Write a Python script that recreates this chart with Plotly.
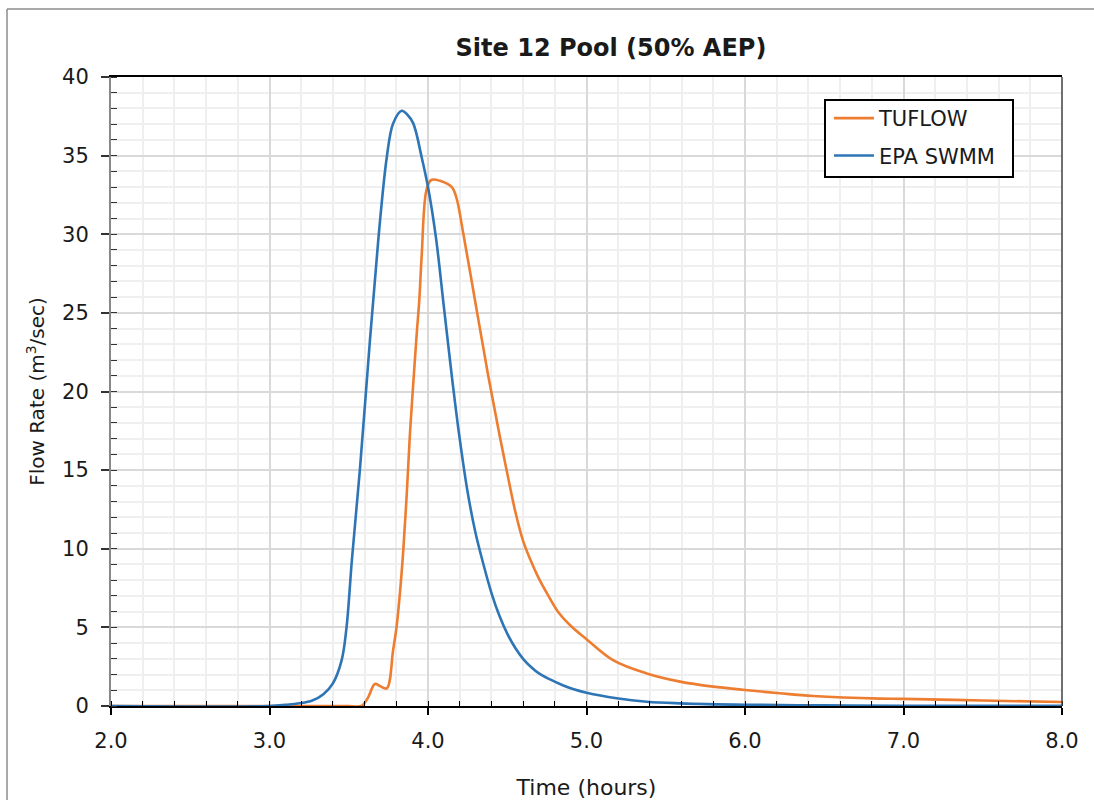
import plotly.graph_objects as go

# ---- data ----
swmm_time = [2.0, 3.0, 3.1, 3.19, 3.27, 3.34, 3.40, 3.455, 3.486, 3.52, 3.57, 3.634,
             3.686, 3.74, 3.78, 3.834, 3.87, 3.907, 3.96, 4.0, 4.05, 4.10, 4.15,
             4.20, 4.25, 4.30, 4.35, 4.40, 4.45, 4.50, 4.55, 4.60, 4.65, 4.70,
             4.77, 4.85, 4.92, 5.0, 5.19, 5.38, 5.59, 6.0, 6.5, 7.0, 8.0]
swmm_flow = [0.0, 0.0, 0.07, 0.17, 0.35, 0.75, 1.44, 2.9, 5.0, 9.3, 15.0, 23.3,
             29.6, 34.9, 37.05, 37.85, 37.6, 37.05, 34.9, 33.0, 29.8, 25.4, 21.0,
             17.0, 13.6, 11.0, 9.0, 7.2, 5.75, 4.6, 3.7, 3.0, 2.48, 2.07,
             1.69, 1.32, 1.06, 0.84, 0.49, 0.27, 0.17, 0.08, 0.04, 0.02, 0.01]

tuflow_time = [2.0, 3.5, 3.58, 3.62, 3.665, 3.70, 3.74, 3.78, 3.80, 3.823, 3.844,
               3.866, 3.886, 3.907, 3.929, 3.945, 3.96, 3.99, 4.02, 4.075, 4.15,
               4.18, 4.22, 4.30, 4.38, 4.45, 4.50, 4.55, 4.60, 4.65, 4.70, 4.76,
               4.82, 4.90, 5.0, 5.17, 5.38, 5.59, 5.80, 6.0, 6.22, 6.43, 6.85, 7.0,
               7.5, 8.0]
tuflow_flow = [0.0, 0.0, 0.0, 0.5, 1.4, 1.25, 1.12, 3.56, 4.9, 7.2, 9.9,
               13.5, 17.3, 20.5, 23.7, 25.8, 28.6, 32.8, 33.45, 33.4, 33.0,
               32.3, 30.2, 25.6, 21.0, 17.3, 14.8, 12.4, 10.5, 9.2, 8.1, 7.0,
               6.0, 5.1, 4.25, 2.9, 2.07, 1.55, 1.23, 1.02, 0.81, 0.64, 0.47, 0.45,
               0.35, 0.25]

x_ticks = [2.0, 3.0, 4.0, 5.0, 6.0, 7.0, 8.0]
x_tick_labels = ["2.0", "3.0", "4.0", "5.0", "6.0", "7.0", "8.0"]
y_ticks = [0, 5, 10, 15, 20, 25, 30, 35, 40]

title_text = "Site 12 Pool (50% AEP)"
x_title = "Time (hours)"
y_title = "Flow Rate (m<sup>3</sup>/sec)"

FONT = "DejaVu Sans"
ORANGE = "#ED7D31"
BLUE = "#2E75B6"

fig = go.Figure()
fig.add_trace(go.Scatter(x=tuflow_time, y=tuflow_flow, mode="lines", name="TUFLOW",
                         legendgroup="a",
                         line=dict(color=ORANGE, width=2.6, shape="spline", smoothing=1.0)))
fig.add_trace(go.Scatter(x=swmm_time, y=swmm_flow, mode="lines", name="EPA SWMM",
                         legendgroup="b",
                         line=dict(color=BLUE, width=2.6, shape="spline", smoothing=1.0)))

L, R, T, B = 111, 32, 77, 94
W, H = 1094, 800
pw, ph = W - L - R, H - T - B


def px_x(p):
    return (p - L) / pw


def px_y(p):
    return (706 - p) / ph


fig.update_layout(
    width=W, height=H,
    margin=dict(l=L, r=R, t=T, b=B, autoexpand=False),
    paper_bgcolor="white", plot_bgcolor="white",
    font=dict(family=FONT, size=21, color="#1a1a1a"),
    title=dict(text=f"<b>{title_text}</b>", x=611 / W, xanchor="center",
               y=1 - 48 / H, yanchor="middle", yref="container",
               font=dict(family=FONT, size=24, color="#1a1a1a")),
    showlegend=True,
    legend=dict(x=px_x(829), y=px_y(98), xanchor="left", yanchor="top",
                bgcolor="rgba(0,0,0,0)", borderwidth=0,
                font=dict(family=FONT, size=21, color="#1a1a1a"),
                itemwidth=40, traceorder="grouped", tracegroupgap=7),
    xaxis=dict(range=[2.0, 8.0], tickmode="array", tickvals=x_ticks, ticktext=x_tick_labels,
               showgrid=True, gridcolor="#d9d9d9", gridwidth=2,
               showline=True, linecolor="black", linewidth=1.5, mirror=True,
               ticks="outside", ticklen=7, tickwidth=1.5, tickcolor="black",
               ticklabelstandoff=8, zeroline=False, automargin=False,
               minor=dict(dtick=0.2, showgrid=True, gridcolor="#efefef", gridwidth=2,
                          ticks="inside", ticklen=5, tickwidth=1.2, tickcolor="black"),
               title=dict(text=x_title, standoff=34, font=dict(family=FONT, size=22))),
    yaxis=dict(range=[0, 40], tickmode="array", tickvals=y_ticks,
               showgrid=True, gridcolor="#d9d9d9", gridwidth=2,
               showline=True, linecolor="#888888", linewidth=2, mirror=False,
               ticks="outside", ticklen=8, tickwidth=1.5, tickcolor="#333333",
               ticklabelstandoff=8, zeroline=False, automargin=False,
               minor=dict(dtick=1, showgrid=True, gridcolor="#efefef", gridwidth=2,
                          ticks="inside", ticklen=6, tickwidth=1.2, tickcolor="#333333"),
               title=dict(text=y_title, standoff=12, font=dict(family=FONT, size=20))),
)

# legend frame (white box with black border)
fig.add_shape(type="rect", xref="paper", yref="paper", layer="above",
              x0=px_x(825), x1=px_x(1013), y0=px_y(177), y1=px_y(100),
              fillcolor="white", line=dict(color="black", width=2))
# right frame line of the plot area and the outer chart border
fig.add_shape(type="line", xref="paper", yref="paper", x0=1, x1=1, y0=0, y1=1,
              line=dict(color="#404040", width=1.5))
fig.add_shape(type="line", xref="paper", yref="paper",
              x0=px_x(7), x1=px_x(W), y0=px_y(9), y1=px_y(9),
              line=dict(color="#8c8c8c", width=1.5))
fig.add_shape(type="line", xref="paper", yref="paper",
              x0=px_x(7), x1=px_x(7), y0=px_y(9), y1=px_y(810),
              line=dict(color="#8c8c8c", width=1.5))

fig.write_html("out.html", config={"displayModeBar": False},
               post_script="document.body.style.margin='0';")
